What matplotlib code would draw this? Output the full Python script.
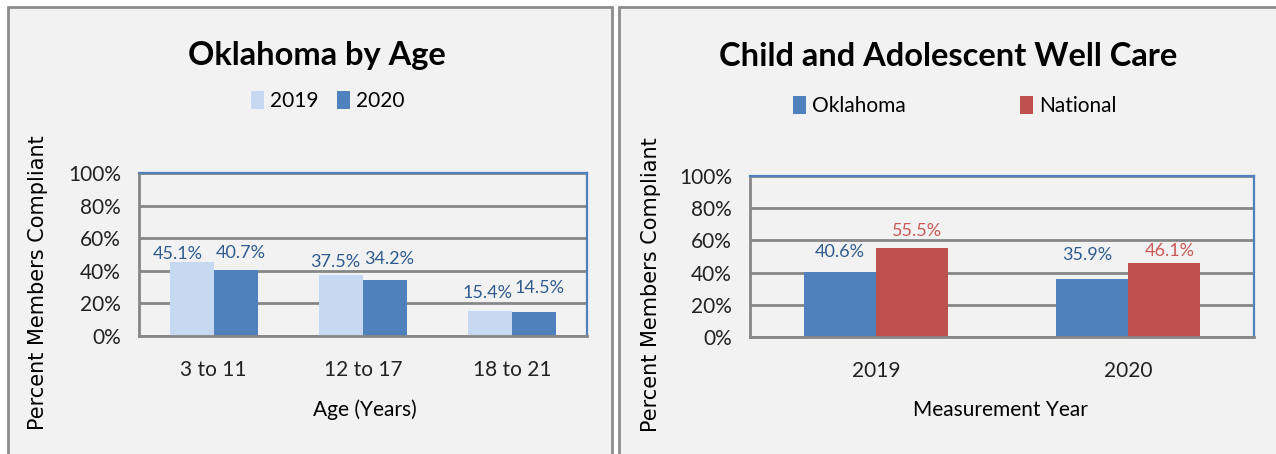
import matplotlib.pyplot as plt
import numpy as np
from matplotlib.patches import Rectangle

# data
age_groups = ['3 to 11', '12 to 17', '18 to 21']
ok_2019 = [45.1, 37.5, 15.4]
ok_2020 = [40.7, 34.2, 14.5]

years = ['2019', '2020']
oklahoma = [40.6, 35.9]
national = [55.5, 46.1]

# colours
light_blue = '#c6d9f1'
blue = '#4f81bd'
red = '#c0504d'
label_blue = '#2f5b8f'
label_red = '#c95a57'
grid_gray = '#878787'
panel_bg = '#f2f2f2'

plt.rcParams['font.family'] = ['Lato', 'DejaVu Sans']

W, H = 1276, 454
fig = plt.figure(figsize=(W / 100, H / 100), dpi=100)
fig.patch.set_facecolor('white')


def fx(px):
    return px / W


def fy(py):
    return 1 - py / H


# the two framed panels
for x0, x1 in [(8, 612), (619, 1290)]:
    fig.patches.append(Rectangle((fx(x0), fy(470)), fx(x1 - x0), (470 - 7) / H,
                                 transform=fig.transFigure, facecolor=panel_bg,
                                 edgecolor='#8c8c8c', lw=2, zorder=-5))


def style_axes(ax):
    ax.set_facecolor(panel_bg)
    ax.set_ylim(0, 100)
    ax.set_yticks(np.arange(0, 101, 20))
    ax.set_yticklabels(['%d%%' % v for v in range(0, 101, 20)], fontsize=15)
    ax.yaxis.grid(True, color=grid_gray, lw=2)
    ax.set_axisbelow(True)
    ax.tick_params(axis='y', length=0, pad=13, colors='#222222')
    ax.tick_params(axis='x', length=0, pad=17, labelsize=15, colors='#222222')
    for side in ['left', 'bottom']:
        ax.spines[side].set_color(grid_gray)
        ax.spines[side].set_linewidth(2)
    for side in ['top', 'right']:
        ax.spines[side].set_color(blue)
        ax.spines[side].set_linewidth(1.6)


def bar_labels(ax, bars, values, color, shifts):
    # shifts: (dx, dy) in pixels from the top centre of each bar
    for b, v, (dx, dy) in zip(bars, values, shifts):
        ax.annotate('%.1f%%' % v, (b.get_x() + b.get_width() / 2, v),
                    textcoords='offset pixels', xytext=(dx, dy),
                    ha='center', va='center', fontsize=13, color=color)


# left chart: Oklahoma by age
ax1 = fig.add_axes([fx(139), fy(336), fx(448), 163 / H])
x = np.arange(len(age_groups))
w = 0.295
b1 = ax1.bar(x - w / 2, ok_2019, w, color=light_blue, label='2019')
b2 = ax1.bar(x + w / 2, ok_2020, w, color=blue, label='2020')
ax1.set_xlim(-0.5, 2.5)
ax1.set_xticks(x)
ax1.set_xticklabels(age_groups)
style_axes(ax1)
bar_labels(ax1, b1, ok_2019, label_blue, [(-14, 8), (-6, 13), (-3, 18)])
bar_labels(ax1, b2, ok_2020, label_blue, [(5, 17), (4, 21), (5, 24)])
ax1.legend(loc='center', bbox_to_anchor=(fx(328), fy(101)), bbox_transform=fig.transFigure,
           ncol=2, frameon=False, fontsize=15, handlelength=0.6, handleheight=1.0,
           handletextpad=0.3, columnspacing=0.9)

fig.text(fx(317), fy(55), 'Oklahoma by Age', ha='center', va='center',
         fontsize=23.5, fontweight='bold')
fig.text(fx(38), fy(283), 'Percent Members Compliant', ha='center', va='center',
         rotation=90, fontsize=15, family='DejaVu Sans')
fig.text(fx(365), fy(410), 'Age (Years)', ha='center', va='center', fontsize=15)

# right chart: Oklahoma vs national
ax2 = fig.add_axes([fx(750), fy(337), fx(504), 161 / H])
x2 = np.arange(len(years))
w2 = 0.287
b3 = ax2.bar(x2 - w2 / 2, oklahoma, w2, color=blue, label='Oklahoma')
b4 = ax2.bar(x2 + w2 / 2, national, w2, color=red, label='National')
ax2.set_xlim(-0.5, 1.5)
ax2.set_xticks(x2)
ax2.set_xticklabels(years)
style_axes(ax2)
bar_labels(ax2, b3, oklahoma, label_blue, [(0, 20), (-5, 24)])
bar_labels(ax2, b4, national, label_red, [(5, 17), (6, 12)])
ax2.legend(loc='center', bbox_to_anchor=(fx(955), fy(106)), bbox_transform=fig.transFigure,
           ncol=2, frameon=False, fontsize=15, handlelength=0.6, handleheight=1.0,
           handletextpad=0.3, columnspacing=5.5)

fig.text(fx(948), fy(57), 'Child and Adolescent Well Care', ha='center', va='center',
         fontsize=23.5, fontweight='bold')
fig.text(fx(651), fy(285), 'Percent Members Compliant', ha='center', va='center',
         rotation=90, fontsize=15, family='DejaVu Sans')
fig.text(fx(1000), fy(410), 'Measurement Year', ha='center', va='center', fontsize=15)

fig.savefig('out.png', dpi=100, facecolor=fig.get_facecolor())
